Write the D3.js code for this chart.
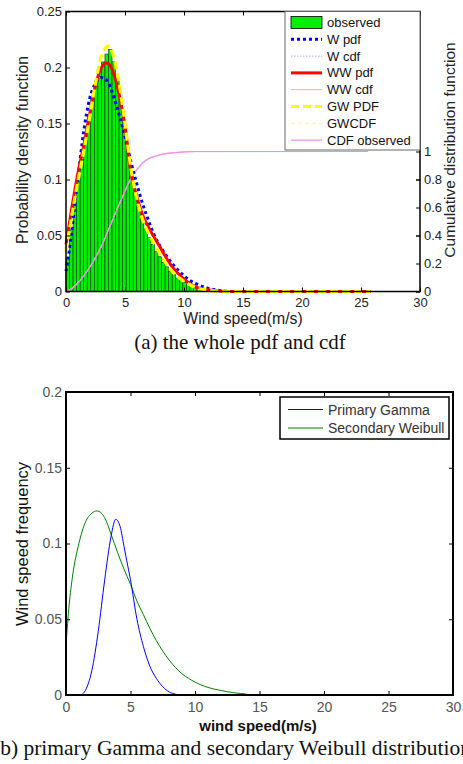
<!DOCTYPE html>
<html>
<head>
<meta charset="utf-8">
<script src="https://cdn.jsdelivr.net/npm/d3@7/dist/d3.min.js"></script>
<style>
  body { margin: 0; background: #fff; }
  svg { display: block; font-family: "Liberation Sans", Arial, sans-serif; }
  .tick text { fill: #222; }
  .cap { font-family: "Liberation Serif", "Times New Roman", serif; font-size: 21px; fill: #111; }
</style>
</head>
<body>
<svg id="fig" width="463" height="764"></svg>
<script>
// ---- DATA ----
// (a) histogram of observed wind speed, bins of 0.3 m/s starting at 0
const binWidth = 0.3;
const histHeights = [0.030, 0.055, 0.080, 0.100, 0.118, 0.138, 0.158, 0.172, 0.188, 0.198,
                     0.205, 0.212, 0.216, 0.205, 0.190, 0.170, 0.148, 0.125, 0.103, 0.088,
                     0.075, 0.064, 0.056, 0.048, 0.042, 0.036, 0.031, 0.026, 0.022, 0.018,
                     0.015, 0.012, 0.010, 0.008, 0.006, 0.005, 0.004, 0.003, 0.002, 0.0015,
                     0.001, 0.0008, 0.0006, 0.0004];

// (a) fitted pdfs
const wPdfX  = [0, 0.25, 0.5, 1, 1.5, 2, 2.5, 3, 3.5, 4, 4.5, 5, 5.5, 6, 6.5, 7, 7.5, 8, 8.5, 9, 9.5, 10, 10.5, 11, 12, 13, 14, 25.8];
const wPdfY  = [0.018, 0.035, 0.055, 0.100, 0.143, 0.172, 0.186, 0.191, 0.188, 0.175, 0.158, 0.138, 0.116, 0.096, 0.078, 0.063, 0.050, 0.040, 0.032, 0.025, 0.019, 0.014, 0.010, 0.007, 0.003, 0.001, 0, 0];
const wwPdfX = [0, 0.5, 1, 1.5, 2, 2.5, 3, 3.45, 4, 4.5, 5, 5.5, 6, 6.5, 7, 7.5, 8, 8.5, 9, 9.5, 10, 10.5, 11, 12, 13, 14, 25.8];
const wwPdfY = [0.042, 0.075, 0.105, 0.130, 0.158, 0.184, 0.200, 0.204, 0.196, 0.176, 0.148, 0.106, 0.085, 0.068, 0.057, 0.048, 0.039, 0.030, 0.022, 0.016, 0.011, 0.007, 0.004, 0.0015, 0.0005, 0, 0];
const gwPdfX = [0, 0.5, 1, 1.5, 2, 2.5, 3, 3.6, 4, 4.5, 5, 5.5, 6, 6.5, 7, 7.5, 8, 8.5, 9, 9.5, 10, 10.5, 11, 12, 13, 14, 25.8];
const gwPdfY = [0.036, 0.068, 0.098, 0.125, 0.155, 0.186, 0.210, 0.219, 0.211, 0.186, 0.150, 0.110, 0.083, 0.064, 0.052, 0.042, 0.033, 0.025, 0.018, 0.013, 0.009, 0.006, 0.0035, 0.0012, 0.0003, 0, 0];

// (a) cdfs (right axis)
const cdfX    = [0, 0.5, 1, 1.5, 2, 2.5, 3, 3.5, 4, 4.5, 5, 5.5, 6, 6.5, 7, 7.5, 8, 9, 10, 11, 25.6];
const obsCdfY = [0, 0.02, 0.06, 0.11, 0.17, 0.24, 0.32, 0.42, 0.52, 0.62, 0.72, 0.81, 0.87, 0.92, 0.95, 0.965, 0.978, 0.99, 0.998, 1, 1];
const wCdfY   = [0, 0.015, 0.055, 0.11, 0.175, 0.25, 0.33, 0.425, 0.52, 0.615, 0.71, 0.80, 0.865, 0.915, 0.945, 0.962, 0.976, 0.99, 0.997, 0.999, 1];
const wwCdfY  = [0, 0.025, 0.065, 0.115, 0.175, 0.245, 0.325, 0.42, 0.52, 0.62, 0.715, 0.80, 0.865, 0.915, 0.947, 0.964, 0.977, 0.99, 0.997, 0.999, 1];
const gwCdfY  = [0, 0.022, 0.062, 0.112, 0.172, 0.243, 0.323, 0.423, 0.525, 0.625, 0.72, 0.81, 0.87, 0.918, 0.949, 0.965, 0.978, 0.991, 0.997, 0.999, 1];

// (b) component distributions
const gammaX   = [1.2, 1.5, 2, 2.5, 3, 3.5, 3.85, 4.2, 4.5, 4.7, 5, 5.5, 6, 6.5, 7, 7.5, 8, 8.5, 8.8];
const gammaY   = [0, 0.003, 0.016, 0.042, 0.076, 0.105, 0.116, 0.111, 0.098, 0.089, 0.076, 0.050, 0.032, 0.019, 0.011, 0.0055, 0.002, 0.0005, 0];
const weibullX = [0, 0.25, 0.5, 1, 1.5, 2, 2.4, 3, 3.5, 4, 4.5, 5, 5.5, 6, 6.5, 7, 7.5, 8, 8.5, 9, 9.5, 10, 11, 12, 13, 14];
const weibullY = [0.033, 0.060, 0.078, 0.100, 0.114, 0.120, 0.1215, 0.117, 0.106, 0.094, 0.083, 0.073, 0.062, 0.053, 0.044, 0.036, 0.029, 0.023, 0.018, 0.014, 0.011, 0.0085, 0.005, 0.003, 0.0015, 0.0006];

// tick labels
const speedTicks = [0, 5, 10, 15, 20, 25, 30];
const pdfTicks   = [0, 0.05, 0.1, 0.15, 0.2, 0.25];
const cdfTicks   = [0, 0.2, 0.4, 0.6, 0.8, 1];
const freqTicks  = [0, 0.05, 0.1, 0.15, 0.2];

const topLegend = ["observed", "W pdf", "W cdf", "WW pdf", "WW cdf", "GW PDF", "GWCDF", "CDF observed"];
const botLegend = ["Primary Gamma", "Secondary Weibull"];

const svg = d3.select("#fig");

// draws ticks on all four sides, labels on left/bottom
function boxAxes(g, x, y, o) {
  const [x0, x1] = x.range(), [y0, y1] = y.range();
  g.append("g").attr("transform", `translate(0,${y0})`)
    .call(d3.axisBottom(x).tickValues(speedTicks).tickSize(-4).tickPadding(o.xPad))
    .call(a => a.select(".domain").remove())
    .selectAll("text").style("font-size", o.fs + "px").style("fill", o.col);
  g.append("g").attr("transform", `translate(0,${y1})`)
    .call(d3.axisTop(x).tickValues(speedTicks).tickSize(-4).tickFormat(""))
    .call(a => a.select(".domain").remove());
  g.append("g").attr("transform", `translate(${x0},0)`)
    .call(d3.axisLeft(y).tickValues(o.yTicks).tickSize(-4).tickPadding(4).tickFormat(d => d))
    .call(a => a.select(".domain").remove())
    .selectAll("text").style("font-size", o.fs + "px").style("fill", o.col);
  g.append("g").attr("transform", `translate(${x1},0)`)
    .call(d3.axisRight(y).tickValues(o.yTicks).tickSize(-4).tickFormat(""))
    .call(a => a.select(".domain").remove());
}

const lineOf = (x, y) => d3.line().x(d => x(d[0])).y(d => y(d[1])).curve(d3.curveMonotoneX);

/* ===================== (a) PDF AND CDF ===================== */
const xA = d3.scaleLinear().domain([0, 30]).range([66, 420]);
const yA = d3.scaleLinear().domain([0, 0.25]).range([291.5, 11.5]);
const yC = d3.scaleLinear().domain([0, 2]).range([291.5, 11.5]);
const gA = svg.append("g");

// histogram
gA.selectAll("rect.bar")
  .data(histHeights)
  .join("rect")
  .attr("class", "bar")
  .attr("x", (d, i) => xA(i * binWidth))
  .attr("width", xA(binWidth) - xA(0))
  .attr("y", d => yA(d))
  .attr("height", d => yA(0) - yA(d))
  .attr("fill", "#00ee00")
  .attr("stroke", "#063806")
  .attr("stroke-width", 0.6);

// cdfs
const cdfStyles = [
  { y: wCdfY,   color: "#a8a8ff", dash: "1.5 1.5", w: 0.8 },
  { y: wwCdfY,  color: "#ffa8a8", dash: null, w: 0.8 },
  { y: gwCdfY,  color: "#f4f4a8", dash: "4 3", w: 0.8 },
  { y: obsCdfY, color: "#f08cf0", dash: null, w: 1.2 }
];
cdfStyles.forEach(s => {
  gA.append("path")
    .datum(d3.zip(cdfX, s.y))
    .attr("d", lineOf(xA, yC))
    .attr("fill", "none")
    .attr("stroke", s.color)
    .attr("stroke-width", s.w)
    .attr("stroke-dasharray", s.dash);
});

// pdfs
gA.append("path").datum(d3.zip(wPdfX, wPdfY)).attr("d", lineOf(xA, yA))
  .attr("fill", "none").attr("stroke", "#0000ff").attr("stroke-width", 3).attr("stroke-dasharray", "3 3");
gA.append("path").datum(d3.zip(wwPdfX, wwPdfY)).attr("d", lineOf(xA, yA))
  .attr("fill", "none").attr("stroke", "#ff0000").attr("stroke-width", 3);
gA.append("path").datum(d3.zip(gwPdfX, gwPdfY)).attr("d", lineOf(xA, yA))
  .attr("fill", "none").attr("stroke", "#ffff00").attr("stroke-width", 3.2).attr("stroke-dasharray", "8 4");

boxAxes(gA, xA, yA, { yTicks: pdfTicks, fs: 13, col: "#222", xPad: 6 });

// right cdf axis
gA.append("g").attr("transform", "translate(420,0)")
  .call(d3.axisRight(yC).tickValues(cdfTicks).tickSize(-4).tickPadding(4).tickFormat(d => d))
  .call(a => a.select(".domain").remove())
  .selectAll("text").style("font-size", "13px").style("fill", "#222");

gA.append("rect").attr("x", 66).attr("y", 11.5).attr("width", 354).attr("height", 280)
  .attr("fill", "none").attr("stroke", "#000").attr("stroke-width", 1.5);

// legend
const legA = gA.append("g");
legA.append("rect").attr("x", 285).attr("y", 11.5).attr("width", 135).attr("height", 138.5)
  .attr("fill", "#fff").attr("stroke", "#666").attr("stroke-width", 1);
const legStyles = [
  null,
  { color: "#0000ff", w: 3, dash: "3 3" },
  { color: "#a8a8ff", w: 1, dash: "1.5 1.5" },
  { color: "#ff0000", w: 3, dash: null },
  { color: "#ffa8a8", w: 1, dash: null },
  { color: "#ffff00", w: 3.2, dash: "8 4" },
  { color: "#f4f4a8", w: 1, dash: "4 3" },
  { color: "#f08cf0", w: 1.2, dash: null }
];
topLegend.forEach((name, i) => {
  const cy = 22.5 + i * 16.8;
  const s = legStyles[i];
  if (s === null) {
    legA.append("rect").attr("x", 291).attr("y", cy - 6).attr("width", 31).attr("height", 12)
      .attr("fill", "#00ee00").attr("stroke", "#000").attr("stroke-width", 0.8);
  } else {
    legA.append("line").attr("x1", 291).attr("x2", 322).attr("y1", cy).attr("y2", cy)
      .attr("stroke", s.color).attr("stroke-width", s.w).attr("stroke-dasharray", s.dash);
  }
  legA.append("text").attr("x", 327).attr("y", cy + 4.5)
    .style("font-size", "13px").style("fill", "#111").text(name);
});

// labels
gA.append("text").attr("transform", "translate(22,150) rotate(-90)").attr("dy", "0.35em")
  .attr("text-anchor", "middle").style("font-size", "15.8px").style("fill", "#222")
  .text("Probability density function");
gA.append("text").attr("transform", "translate(450,150) rotate(-90)").attr("dy", "0.35em")
  .attr("text-anchor", "middle").style("font-size", "15.5px").style("fill", "#222")
  .text("Cumulative distribution function");
gA.append("text").attr("x", 243).attr("y", 324).attr("text-anchor", "middle")
  .style("font-size", "15.8px").style("fill", "#222").text("Wind speed(m/s)");
gA.append("text").attr("class", "cap").attr("x", 240).attr("y", 349).attr("text-anchor", "middle")
  .text("(a) the whole pdf and cdf");

/* ===================== (b) GAMMA + WEIBULL ===================== */
const xB = d3.scaleLinear().domain([0, 30]).range([66, 453]);
const yB = d3.scaleLinear().domain([0, 0.2]).range([695, 392]);
const gB = svg.append("g");

gB.append("path").datum(d3.zip(weibullX, weibullY)).attr("d", lineOf(xB, yB))
  .attr("fill", "none").attr("stroke", "#008000").attr("stroke-width", 1);
gB.append("path").datum(d3.zip(gammaX, gammaY)).attr("d", lineOf(xB, yB))
  .attr("fill", "none").attr("stroke", "#0000ff").attr("stroke-width", 1);

boxAxes(gB, xB, yB, { yTicks: freqTicks, fs: 14, col: "#555", xPad: 7 });

gB.append("rect").attr("x", 66).attr("y", 392).attr("width", 387).attr("height", 303)
  .attr("fill", "none").attr("stroke", "#000").attr("stroke-width", 2);

const legB = gB.append("g");
legB.append("rect").attr("x", 280).attr("y", 397).attr("width", 169).attr("height", 42)
  .attr("fill", "#fff").attr("stroke", "#000").attr("stroke-width", 1.5);
const botColors = ["#0000ff", "#008000"];
botLegend.forEach((name, i) => {
  const cy = 409.5 + i * 18.5;
  legB.append("line").attr("x1", 288).attr("x2", 323).attr("y1", cy).attr("y2", cy)
    .attr("stroke", botColors[i]).attr("stroke-width", 1);
  legB.append("text").attr("x", 328).attr("y", cy + 5)
    .style("font-size", "14px").style("fill", "#333").text(name);
});

gB.append("text").attr("transform", "translate(22,544) rotate(-90)").attr("dy", "0.35em")
  .attr("text-anchor", "middle").style("font-size", "16.5px").style("fill", "#111")
  .text("Wind speed frequency");
gB.append("text").attr("x", 258).attr("y", 731).attr("text-anchor", "middle")
  .style("font-size", "15px").style("font-weight", "bold").style("fill", "#111").text("wind speed(m/s)");
gB.append("text").attr("class", "cap").attr("x", -7).attr("y", 755)
  .style("font-size", "21.5px")
  .text("(b) primary Gamma and secondary Weibull distributions");
</script>
</body>
</html>
